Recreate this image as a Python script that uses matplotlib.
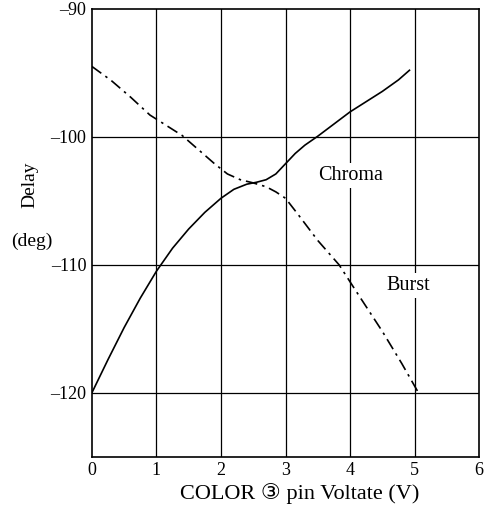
import matplotlib
matplotlib.use("Agg")
from matplotlib import pyplot as plt

# Chroma curve (solid)
chroma_x = [0, 0.25, 0.5, 0.75, 1.0, 1.25, 1.5, 1.75, 2.0, 2.2, 2.4, 2.55,
            2.7, 2.85, 3.0, 3.15, 3.3, 3.5, 3.75, 4.0, 4.25, 4.5, 4.75, 4.92]
chroma_y = [-120, -117.4, -114.9, -112.6, -110.5, -108.7, -107.2, -105.9,
            -104.8, -104.1, -103.7, -103.55, -103.35, -102.9, -102.1, -101.3,
            -100.65, -99.95, -99.0, -98.05, -97.25, -96.45, -95.55, -94.8]

# Burst curve (dash-dot)
burst_x = [0, 0.3, 0.6, 0.9, 1.15, 1.4, 1.65, 1.9, 2.1, 2.3, 2.5, 2.7, 2.85,
           3.0, 3.2, 3.5, 3.83, 4.15, 4.5, 4.8, 5.06]
burst_y = [-94.5, -95.6, -96.9, -98.3, -99.1, -99.9, -101.0, -102.1, -102.9,
           -103.35, -103.6, -103.9, -104.3, -104.8, -106.1, -108.1, -110.0,
           -112.5, -115.2, -117.7, -120.0]

x_ticks = [0, 1, 2, 3, 4, 5, 6]
y_ticks = [-90, -100, -110, -120]
y_tick_labels = ["\u201290", "\u2012100", "\u2012110", "\u2012120"]

serif = ["Liberation Serif", "DejaVu Serif", "DejaVu Sans"]
plt.rcParams["font.family"] = serif

fig = plt.figure(figsize=(4.86, 5.18), dpi=100)
ax = fig.add_axes([0.189, 0.118, 0.797, 0.865])

for x in x_ticks[1:-1]:
    ax.axvline(x, color="black", lw=0.9, zorder=1)
for y in y_ticks[1:]:
    ax.axhline(y, color="black", lw=0.9, zorder=1)

ax.plot(chroma_x, chroma_y, color="black", lw=1.2, zorder=3)
ax.plot(burst_x, burst_y, color="black", lw=1.2, zorder=3,
        linestyle=(0, (7, 3, 1.5, 3)))

ax.text(4.0, -103.0, "Chroma", fontsize=14.5, ha="center", va="center",
        zorder=2, bbox=dict(facecolor="white", edgecolor="none", pad=2))
ax.text(4.9, -111.6, "Burst", fontsize=14.5, ha="center", va="center",
        zorder=2, bbox=dict(facecolor="white", edgecolor="none", pad=2))

ax.set_xlim(0, 6)
ax.set_ylim(-125, -90)
ax.set_xticks(x_ticks)
ax.set_yticks(y_ticks)
ax.set_yticklabels(y_tick_labels)
ax.tick_params(length=0, labelsize=13, pad=4)
for s in ax.spines.values():
    s.set_linewidth(1.2)

fig.text(30 / 486, 1 - 185 / 518, "Delay", rotation=90, fontsize=14,
         ha="center", va="center")
fig.text(32 / 486, 1 - 241 / 518, "(deg)", fontsize=14,
         ha="center", va="center")
fig.text(300 / 486, 1 - 494 / 518, "COLOR \u2462 pin Voltate (V)",
         fontsize=16, ha="center", va="center", family=serif)

fig.savefig("out.png", dpi=100)
